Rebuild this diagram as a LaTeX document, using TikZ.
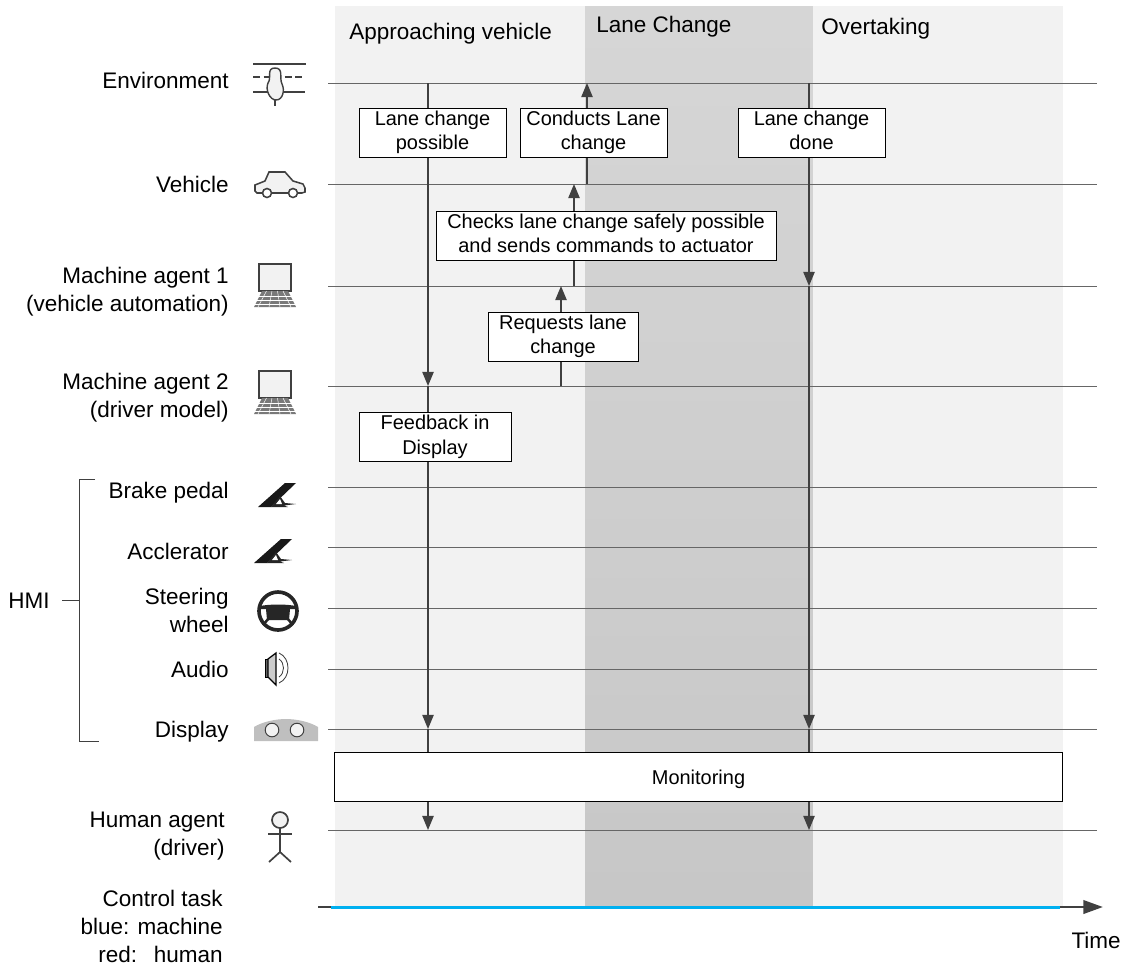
\documentclass[tikz,border=0pt]{standalone}
\usepackage{fontspec}
\setmainfont{Liberation Sans}
\usepackage{xcolor}
\usetikzlibrary{arrows.meta}
\definecolor{linegray}{HTML}{404040}
\definecolor{zonelight}{HTML}{F2F2F2}
\definecolor{taskblue}{HTML}{00B0F0}
\tikzset{
    rowline/.style={draw=linegray!80, line width=0.7pt},
    flowline/.style={draw=linegray, line width=1.1pt, -{Triangle[length=10pt,width=8pt]}},
    taskbox/.style={draw=black, fill=white, line width=0.6pt, align=center, minimum height=1.225cm, inner sep=0pt,
        execute at begin node={\rule{0pt}{13.2pt}}, execute at end node={\rule[-3pt]{0pt}{3pt}}},
    rowlabel/.style={anchor=base east, align=right, inner sep=0pt, font=\fontsize{16}{19.9}\selectfont},
    phaselabel/.style={anchor=base west, inner sep=0pt, font=\fontsize{16}{19.9}\selectfont},
    icon/.style={draw=linegray, line width=1.1pt, fill=zonelight},
    pics/laptopicon/.style={code={
        \draw[icon, line width=1.3pt] (0,0) rectangle (32,27);
        \fill[linegray!70] (3,27) -- (29,27) -- (37,43) -- (-5,43) -- cycle;
        \foreach \u in {31,35,39}
            \draw[white, line width=0.35pt] (-5,\u+1) -- (37,\u+1);
        \foreach \u in {-1,10,21,32}
            \draw[white, line width=0.35pt] (\u/2+8,27) -- (\u,43);
    }},
    pics/pedalicon/.style={code={
        \fill[black!90] (27,0) -- (38,0) -- (13,24) -- (0,24) -- cycle;
        \fill[black!85] (13,24) -- (22,13) -- (27,20) -- (38,21) -- (26,22.5) -- (30,24) -- cycle;
        \fill[white] (18,21) -- (22,16) -- (24,21) -- cycle;
    }}
}
\begin{document}
\begin{tikzpicture}[x=0.025cm, y=-0.025cm, font=\fontsize{14.2}{17.3}\selectfont]
    \useasboundingbox (0,0) rectangle (1122,968);

    % Phases in the background
    \fill[zonelight] (335,6) rectangle (585,907);
    \shade[top color=black!16, bottom color=black!22] (585,6) rectangle (813,907);
    \fill[zonelight] (813,6) rectangle (1063,907);
    \node[phaselabel] (approach) at (349,39) {Approaching vehicle};
    \node[phaselabel] (lanechange) at (596,32) {Lane Change};
    \node[phaselabel] (overtaking) at (821,34) {Overtaking};

    % Agents and their time lines
    \foreach \name/\y in {env/83,veh/184,maone/286,matwo/386,brake/487,accel/547,steer/608,audio/669,disp/729,human/830}
    {
        \draw[rowline] (328,\y) coordinate (row\name) -- (1097,\y) coordinate (end\name);
    }
    \node[rowlabel] (lblenv) at (229,88) {Environment};
    \node[rowlabel] (lblveh) at (229,192) {Vehicle};
    \node[rowlabel] (lblmaone) at (229,311) {Machine agent 1\\(vehicle automation)};
    \node[rowlabel] (lblmatwo) at (229,417) {Machine agent 2\\(driver model)};
    \node[rowlabel] (lblbrake) at (229,498) {Brake pedal};
    \node[rowlabel] (lblaccel) at (229,559) {Acclerator};
    \node[rowlabel] (lblsteer) at (229,632) {Steering\\wheel};
    \node[rowlabel] (lblaudio) at (229,677) {Audio};
    \node[rowlabel] (lbldisp) at (229,737) {Display};
    \node[rowlabel] (lblhuman) at (225,855) {Human agent\\(driver)};
    \node[rowlabel] (lblcontrol) at (223,962) {Control task\\blue: machine\\red:\hspace{0.75em}human};

    % HMI bracket
    \node[rowlabel] (hmi) at (50,608) {HMI};
    \coordinate (bracktop) at (95,479);
    \coordinate (brackbot) at (99,741);
    \coordinate (bracktick) at (79,600);
    \coordinate (hmitick) at (62,600);
    \draw[line width=0.6pt, draw=linegray] (bracktop) -- (79,479) -- (79,741) -- (brackbot);
    \draw[line width=0.6pt, draw=linegray] (hmitick) -- (bracktick);

    % Icons
    % environment
    \draw[linegray, line width=1.4pt] (253,64) -- (306,64);
    \draw[linegray, line width=1.4pt, dash pattern=on 5pt off 2.5pt] (253,77) -- (303,77);
    \draw[linegray, line width=1.4pt] (253,92) -- (305,92);
    \draw[linegray, line width=2pt] (275,98) -- (275,106);
    \draw[icon, line width=1pt] (275,68) .. controls (266,68) and (272,78) .. (268,83) .. controls (265,90) and (270,100) .. (276,100) .. controls (283,100) and (285,90) .. (282,84) .. controls (279,78) and (284,68) .. (275,68) -- cycle;
    % car
    \draw[icon] (257,193) -- (255,191) -- (255,185) -- (265,181) -- (269,172) -- (285,172) -- (293,181) -- (303,184) -- (305,188) -- (305,192) -- (302,193) -- cycle;
    \foreach \u in {267,293}
        \draw[icon, fill=white] (\u,193) circle[radius=4.5];
    % laptops
    \pic at (259,264) {laptopicon};
    \pic at (259,371) {laptopicon};
    % pedals
    \pic at (258,483) {pedalicon};
    \pic at (254,539) {pedalicon};
    % steering wheel
    \draw[black!85, line width=2.6pt] (278,611) circle[radius=19];
    \fill[black!85] (260,606) .. controls (270,604) and (286,604) .. (296,606) -- (296,609) -- (290,609) -- (289,620) -- (267,620) -- (266,609) -- (260,609) -- cycle;
    \draw[black!85, line width=1.8pt] (269,618) -- (263,625);
    \draw[black!85, line width=1.8pt] (287,618) -- (293,625);
    % audio
    \draw[black, line width=0.7pt, fill=black!60] (265,659) rectangle (268,677);
    \draw[black, line width=0.9pt, fill=black!20] (268,659) -- (276,653) -- (276,685) -- (268,677) -- cycle;
    \draw[linegray, line width=0.6pt] (279,653) .. controls (291,658) and (291,678) .. (279,683);
    \draw[linegray, line width=0.6pt] (279,659) .. controls (285,663) and (285,673) .. (279,677);
    % display
    \fill[black!25] (254,741) -- (254,727) .. controls (262,722) and (275,719) .. (286,719) .. controls (297,719) and (310,722) .. (318,727) -- (318,741) -- cycle;
    \foreach \u in {272,297}
        \draw[linegray, fill=zonelight, line width=0.7pt] (\u,730) circle[radius=6.8];
    % human
    \draw[icon, line width=1.2pt] (280,820) circle[radius=8];
    \draw[linegray, line width=1.2pt] (280,828) -- (280,852) -- (269,862);
    \draw[linegray, line width=1.2pt] (280,852) -- (291,862);
    \draw[linegray, line width=1.2pt] (268,834) -- (292,834);

    % Flow of information
    \coordinate (trackA) at (428,0);
    \coordinate (trackB) at (809,0);
    \coordinate (stepA) at (561,0);
    \coordinate (stepB) at (574,0);
    \coordinate (stepC) at (587,0);
    \draw[flowline] (trackA |- rowenv) -- (trackA |- rowmatwo);
    \draw[flowline] (trackA |- rowmatwo) -- (trackA |- rowdisp);
    \draw[flowline] (trackA |- rowdisp) -- (trackA |- rowhuman);
    \draw[flowline] (trackB |- rowenv) -- (trackB |- rowmaone);
    \draw[flowline] (trackB |- rowmaone) -- (trackB |- rowdisp);
    \draw[flowline] (trackB |- rowdisp) -- (trackB |- rowhuman);
    \draw[flowline] (stepA |- rowmatwo) -- (stepA |- rowmaone);
    \draw[flowline] (stepB |- rowmaone) -- (stepB |- rowveh);
    \draw[flowline] (stepC |- rowveh) -- (stepC |- rowenv);

    % Boxes on top of the arrows
    \node[taskbox, minimum width=3.675cm] (possible) at (432.5,132.5) {Lane change\\possible};
    \node[taskbox, minimum width=3.675cm] (conducts) at (593.5,132.5) {Conducts Lane\\change};
    \node[taskbox, minimum width=3.675cm] (done) at (811.5,132.5) {Lane change\\done};
    \node[taskbox, minimum width=8.5cm] (checks) at (606,235.5) {Checks lane change safely possible\\and sends commands to actuator};
    \node[taskbox, minimum width=3.75cm] (requests) at (563,336.5) {Requests lane\\change};
    \node[taskbox, minimum width=3.8cm] (feedback) at (435,437) {Feedback in\\Display};
    \node[taskbox, minimum width=18.175cm] (monitoring) at (698.5,777) {Monitoring};

    % Time axis
    \coordinate (timestart) at (318,907);
    \coordinate (timeend) at (1103,907);
    \coordinate (taskstart) at (331,907.5);
    \coordinate (taskend) at (1060,907.5);
    \draw[linegray, line width=2pt, -{Triangle[length=14pt,width=9.5pt]}] (timestart) -- (timeend);
    \draw[taskblue, line width=2.7pt] (taskstart) -- (taskend);
    \node[rowlabel] (timelabel) at (1121,948) {Time};
\end{tikzpicture}
\end{document}
